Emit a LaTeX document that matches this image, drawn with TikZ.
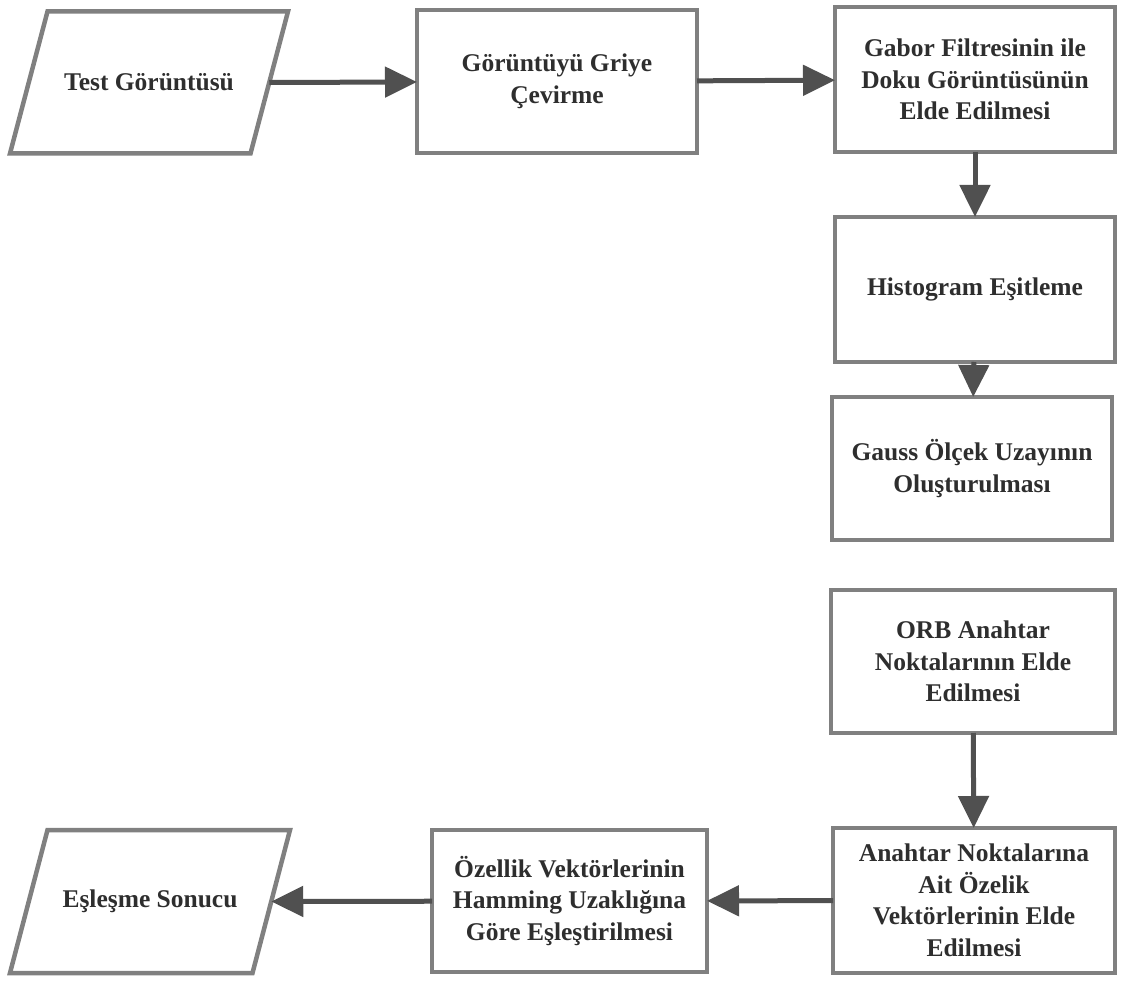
\documentclass[tikz,border=0pt]{standalone}
\usepackage{fontspec}
\setmainfont{Liberation Serif}
\usetikzlibrary{arrows.meta,calc}
\definecolor{boxgray}{HTML}{808080}
\definecolor{arrowgray}{HTML}{505050}
\definecolor{textgray}{HTML}{2E2E2E}
\begin{document}
\begin{tikzpicture}[x=1pt,y=-1pt,
  every node/.style={font=\fontsize{25.5}{31.5}\selectfont\bfseries,
    text=textgray, align=center, inner sep=0pt, outer sep=0pt},
  procbox/.style={draw=boxgray, line width=4.5pt, rectangle,
    minimum width=280pt, minimum height=143pt},
  iobox/.style={rectangle, minimum width=278pt, minimum height=142pt},
  ioframe/.style={draw=boxgray, line width=4.5pt, line join=miter},
  flow/.style={draw=arrowgray, line width=5pt,
    -{Triangle[length=32pt,width=30pt]}}
]
\useasboundingbox (0,0) rectangle (1121,981);
\def\slant{37.5}

% input and first processing steps
\node[iobox] (test) at (149,82.5) {Test Görüntüsü};
\draw[ioframe] (test.south west) -- ($(test.north west)+(\slant,0)$)
  -- (test.north east) -- ($(test.south east)+(-\slant,0)$) -- cycle;
\coordinate (test-out) at ($(test.east)+(-\slant/2,0)$);

\node[procbox] (griye) at (557,81.5) {Görüntüyü Griye\\Çevirme};
\node[procbox, minimum height=145pt] (gabor) at (975,79.5)
  {Gabor Filtresinin ile\\Doku Görüntüsünün\\Elde Edilmesi};
\node[procbox, minimum height=145pt] (hist) at (975,289.5) {Histogram Eşitleme};
\node[procbox] (gauss) at (972,468.5) {Gauss Ölçek Uzayının\\Oluşturulması};

% keypoints, descriptors and matching
\node[procbox, minimum width=284pt] (orb) at (973,661.5)
  {ORB Anahtar\\Noktalarının Elde\\Edilmesi};
\node[procbox, minimum width=282pt, minimum height=145pt] (anahtar) at (974,900.5)
  {Anahtar Noktalarına\\Ait Özelik\\Vektörlerinin Elde\\Edilmesi};
\node[procbox, minimum width=275pt, minimum height=142pt] (ozellik) at (569.5,901)
  {Özellik Vektörlerinin\\Hamming Uzaklığına\\Göre Eşleştirilmesi};

\node[iobox, minimum width=280pt, minimum height=143pt] (esles) at (150,901.5)
  {Eşleşme Sonucu};
\draw[ioframe] (esles.south west) -- ($(esles.north west)+(\slant,0)$)
  -- (esles.north east) -- ($(esles.south east)+(-\slant,0)$) -- cycle;
\coordinate (esles-in) at ($(esles.east)+(-\slant/2,0)$);

% connectors
\draw[flow] (test-out) -- (griye);
\draw[flow] (griye) -- (gabor);
\draw[flow] (gabor) -- (hist);
\draw[flow] (hist) -- (gauss);
\draw[flow] (orb) -- (anahtar);
\draw[flow] (anahtar) -- (ozellik);
\draw[flow] (ozellik) -- (esles-in);
\end{tikzpicture}
\end{document}
